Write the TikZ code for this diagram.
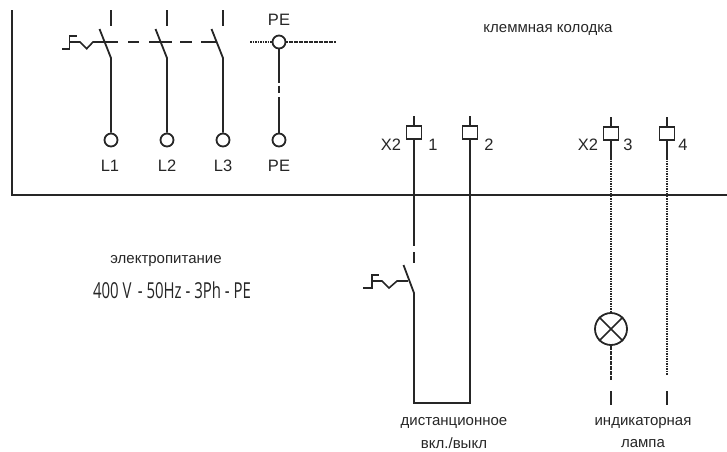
\documentclass[tikz,border=0pt]{standalone}
\usepackage{fontspec}
\setmainfont{Liberation Sans}
\newfontfamily\condfont{Open Sans}
\begin{document}
\begin{tikzpicture}[x=1pt,y=-1pt,
  wire/.style={line width=1.8pt,draw=black!85},
  thinwire/.style={line width=1.6pt,draw=black!85},
  dotwire/.style={line width=1.8pt,draw=black!85,dash pattern=on 1.6pt off 0.9pt},
  term/.style={circle,draw=black!85,line width=1.8pt,minimum size=13pt,inner sep=0pt},
  clamp/.style={rectangle,draw=black!85,line width=1.8pt,minimum width=15pt,minimum height=13pt,inner sep=0pt},
  lampnode/.style={circle,draw=black!85,line width=1.8pt,minimum size=32pt,inner sep=0pt},
  lab/.style={font=\fontsize{16.5}{16.5}\selectfont,inner sep=0pt,text=black!85},
  captxt/.style={font=\fontsize{15}{15}\selectfont,inner sep=0pt,text=black!85}]
\useasboundingbox (0,0) rectangle (727,451);
% frame
\coordinate (f1) at (12,10); \coordinate (f2) at (12,195); \coordinate (f3) at (727,195);
\draw[wire,line join=miter] (f1) -- (f2) -- (f3);
% supply terminals
\node[term] (tL1) at (111,140) {}; \node[term] (tL2) at (167,140) {};
\node[term] (tL3) at (223,140) {}; \node[term] (tPEb) at (279,140) {};
\node[term] (tPEt) at (279,42) {};
\node[lab] (lL1) at (110,166) {L1}; \node[lab] (lL2) at (167,166) {L2};
\node[lab] (lL3) at (223,166) {L3}; \node[lab] (lPEb) at (279,166) {PE};
\node[lab] (lPEt) at (279,20) {PE};
% switches
\foreach \n/\x in {1/111,2/167,3/223}{
  \coordinate (s\n a) at (\x,10); \coordinate (s\n b) at (\x,26);
  \coordinate (s\n c) at (\x-11.5,29); \coordinate (s\n d) at (\x,58);
  \draw[wire] (s\n a) -- (s\n b);
  \draw[wire] (s\n c) -- (s\n d) -- (tL\n);
}
% mechanical link
\foreach \a/\b [count=\i] in {95/118,128/139,149/172,180/192,201/217}{
  \coordinate (m\i a) at (\a,42); \coordinate (m\i b) at (\b,42);
  \draw[wire] (m\i a) -- (m\i b);
}
% thermal release 1
\coordinate (h1) at (62,48.7); \coordinate (h2) at (69.5,48.7); \coordinate (h3) at (69.5,35.7); \coordinate (h4) at (77,35.7);
\coordinate (h5) at (70,42); \coordinate (h6) at (80,42); \coordinate (h7) at (86.7,48.7); \coordinate (h8) at (93,42); \coordinate (h9) at (105,42);
\draw[thinwire] (h1) -- (h2) -- (h3) -- (h4);
\draw[thinwire] (h5) -- (h6) -- (h7) -- (h8) -- (h9);
% PE
\coordinate (pl) at (250,42); \coordinate (pr) at (336,42);
\draw[dotwire] (pl) -- (tPEt); \draw[dotwire] (tPEt) -- (pr);
\coordinate (p1) at (279,83); \coordinate (p2) at (279,85.5); \coordinate (p3) at (279,93); \coordinate (p4) at (279,97);
\draw[wire] (tPEt) -- (p1); \draw[wire] (p2) -- (p3); \draw[wire] (p4) -- (tPEb);
% clamps
\node[clamp] (c1) at (414,132.5) {}; \node[clamp] (c2) at (470,132.5) {};
\node[clamp] (c3) at (611,133.5) {}; \node[clamp] (c4) at (667,133.5) {};
\foreach \n/\x/\y in {1/414/116,2/470/116,3/611/117,4/667/117}{
  \coordinate (ct\n) at (\x,\y);
  \draw[thinwire] (ct\n) -- (c\n);
}
\node[lab] at (391,145) {X2}; \node[lab] at (433,145) {1};
\node[lab] at (489,145) {2}; \node[lab] at (588,145) {X2};
\node[lab] at (628,145) {3}; \node[lab] at (683,145) {4};
% remote circuit
\coordinate (r1) at (414,246); \coordinate (r2) at (414,252); \coordinate (r3) at (414,263);
\coordinate (r4) at (403.5,265); \coordinate (r5) at (414,293); \coordinate (r6) at (414,403); \coordinate (r7) at (470,403);
\draw[wire] (c1) -- (r1); \draw[wire] (r2) -- (r3);
\draw[wire,line join=miter] (r4) -- (r5) -- (r6) -- (r7) -- (c2);
\coordinate (g1) at (363,288); \coordinate (g2) at (372,288); \coordinate (g3) at (372,275); \coordinate (g4) at (379,275);
\coordinate (g5) at (373,281); \coordinate (g6) at (382,281); \coordinate (g7) at (389,288); \coordinate (g8) at (397,281); \coordinate (g9) at (408,281);
\draw[thinwire] (g1) -- (g2) -- (g3) -- (g4);
\draw[thinwire] (g5) -- (g6) -- (g7) -- (g8) -- (g9);
% lamp circuit
\node[lampnode] (L) at (611,329) {};
\draw[thinwire] (L.45) -- (L.225); \draw[thinwire] (L.135) -- (L.315);
\coordinate (d1) at (611,380); \coordinate (d2) at (611,391); \coordinate (d3) at (611,405);
\coordinate (e1) at (667,375); \coordinate (e2) at (667,391); \coordinate (e3) at (667,405);
\coordinate (c3s) at (611,158); \coordinate (c4s) at (667,158);
\draw[wire] (c3) -- (c3s); \draw[wire] (c4) -- (c4s);
\draw[dotwire] (c3s) -- (L); \draw[dotwire] (L) -- (d1); \draw[wire] (d2) -- (d3);
\draw[dotwire] (c4s) -- (e1); \draw[wire] (e2) -- (e3);
% captions
\node[captxt] at (548,30) {клеммная колодка};
\node[captxt] at (166,261) {электропитание};
\node[inner sep=0pt,text=black!85] at (172,290) {\scalebox{0.68}[1]{\condfont\fontsize{22}{22}\selectfont 400 V\, - 50Hz - 3Ph - PE}};
\node[captxt] at (454,423) {дистанционное};
\node[captxt] at (454,443.5) {вкл./выкл};
\node[captxt] at (643,423) {индикаторная};
\node[captxt] at (643,443.5) {лампа};
\end{tikzpicture}
\end{document}
